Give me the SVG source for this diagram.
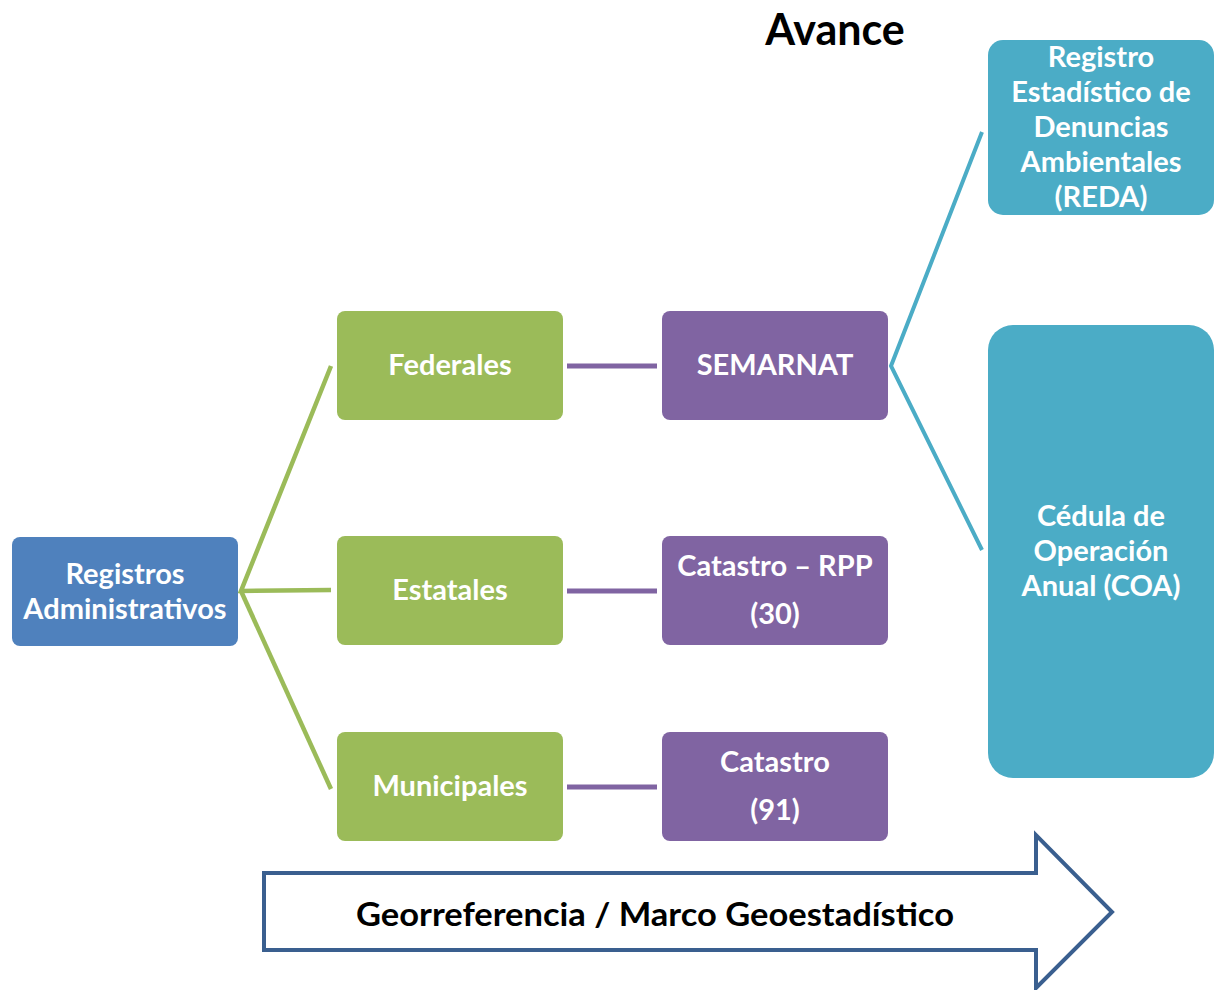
<svg xmlns="http://www.w3.org/2000/svg" width="1214" height="990" viewBox="0 0 1214 990">
<style>
text{font-family:Lato,"Open Sans","Liberation Sans",sans-serif;font-weight:bold;text-anchor:middle}
.lbl{fill:#fff;font-size:29px}
.blue{fill:#4F81BD}
.green{fill:#9BBB59}
.purple{fill:#8064A2}
.teal{fill:#4BACC6}
.gl{stroke:#9BBB59;stroke-width:4.5;fill:none}
.pl{stroke:#8064A2;stroke-width:5;fill:none}
.tl{stroke:#4BACC6;stroke-width:4;fill:none}
</style>
<rect width="1214" height="990" fill="#fff"/>
<text x="835" y="45" font-size="43" fill="#000">Avance</text>
<g id="connectors">
<polyline class="gl" points="331,366 241,591 331,590"/>
<line class="gl" x1="241" y1="591" x2="331" y2="789"/>
<line class="pl" x1="567" y1="366" x2="657" y2="366"/>
<line class="pl" x1="567" y1="591" x2="657" y2="591"/>
<line class="pl" x1="567" y1="787" x2="657" y2="787"/>
<polyline class="tl" points="982,132 891,366 982,550"/>
</g>
<g id="registros">
<rect class="blue" x="12" y="537" width="226" height="109" rx="8"/>
<text class="lbl" x="125" y="584">Registros</text>
<text class="lbl" x="125" y="619">Administrativos</text>
</g>
<g id="federales">
<rect class="green" x="337" y="311" width="226" height="109" rx="8"/>
<text class="lbl" x="450" y="375">Federales</text>
</g>
<g id="estatales">
<rect class="green" x="337" y="536" width="226" height="109" rx="8"/>
<text class="lbl" x="450" y="600">Estatales</text>
</g>
<g id="municipales">
<rect class="green" x="337" y="732" width="226" height="109" rx="8"/>
<text class="lbl" x="450" y="796">Municipales</text>
</g>
<g id="semarnat">
<rect class="purple" x="662" y="311" width="226" height="109" rx="8"/>
<text class="lbl" x="775" y="375">SEMARNAT</text>
</g>
<g id="catastro-rpp">
<rect class="purple" x="662" y="536" width="226" height="109" rx="8"/>
<text class="lbl" x="775" y="576">Catastro – RPP</text>
<text class="lbl" x="775" y="624">(30)</text>
</g>
<g id="catastro">
<rect class="purple" x="662" y="732" width="226" height="109" rx="8"/>
<text class="lbl" x="775" y="772">Catastro</text>
<text class="lbl" x="775" y="820">(91)</text>
</g>
<g id="reda">
<rect class="teal" x="988" y="40" width="226" height="175" rx="15"/>
<text class="lbl" x="1101" y="67">Registro</text>
<text class="lbl" x="1101" y="102">Estadístico de</text>
<text class="lbl" x="1101" y="137">Denuncias</text>
<text class="lbl" x="1101" y="172">Ambientales</text>
<text class="lbl" x="1101" y="207">(REDA)</text>
</g>
<g id="coa">
<rect class="teal" x="988" y="325" width="226" height="453" rx="25"/>
<text class="lbl" x="1101" y="526">Cédula de</text>
<text class="lbl" x="1101" y="561">Operación</text>
<text class="lbl" x="1101" y="596">Anual (COA)</text>
</g>
<g id="georreferencia">
<polygon points="264,873 1036,873 1036,835 1112,912 1036,988 1036,950 264,950" fill="#fff" stroke="#3A5F8F" stroke-width="4"/>
<text x="655" y="926" font-size="32" fill="#000" textLength="598" lengthAdjust="spacingAndGlyphs">Georreferencia / Marco Geoestadístico</text>
</g>
</svg>
